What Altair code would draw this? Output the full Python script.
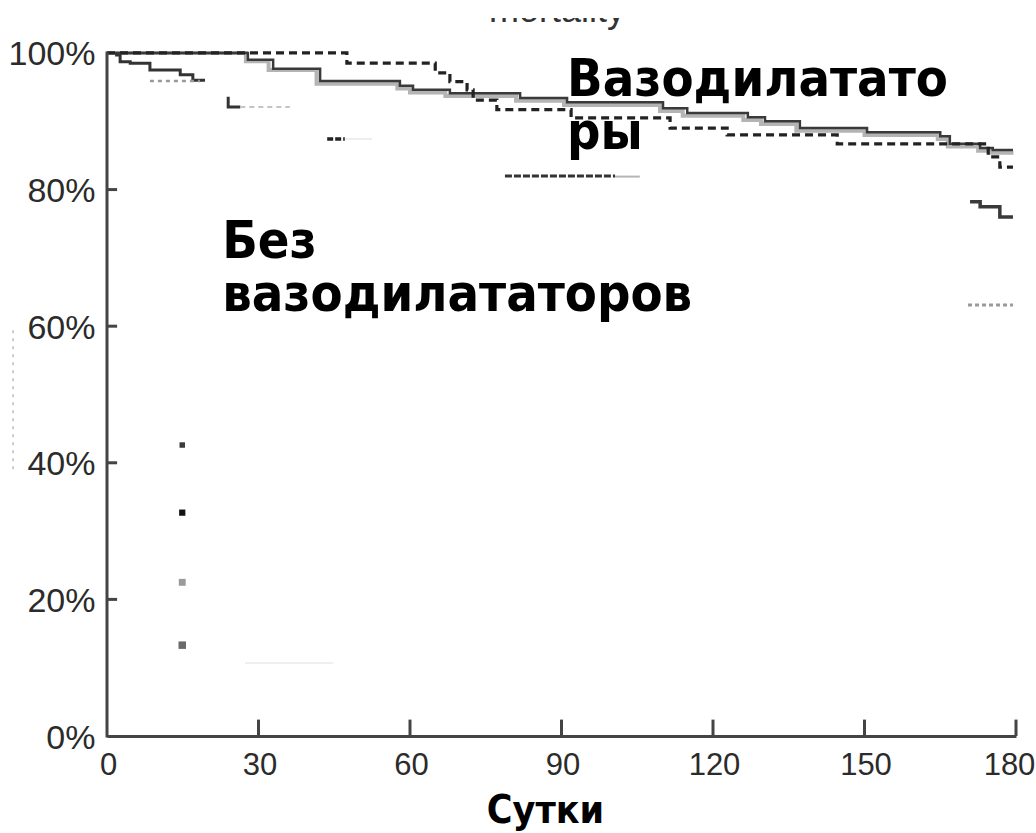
import altair as alt
import pandas as pd

# ---- survival curves: day of follow-up vs. share of patients alive (%) ----
# dashed curve
dash_days = [0, 47.5, 65.0, 67.9, 71.3, 72.5, 77.2, 91.9, 111.5, 122.8, 144.6, 174.5, 176.8, 179.4]
dash_pct = [100, 98.5, 97.1, 95.8, 94.6, 93.1, 91.7, 90.5, 89.0, 88.0, 86.7, 84.8, 83.3, 83.3]

# dark solid curve
solid_days = [0, 27.9, 32.9, 42.2, 58.0, 60.6, 67.9, 81.8, 91.1, 110.1, 114.9, 126.9, 130.3,
              137.2, 150.5, 165.0, 166.9, 172.9, 175.4, 179.4]
solid_pct = [100, 99.0, 97.7, 95.9, 95.2, 94.6, 94.1, 93.4, 92.8, 91.9, 91.2, 90.6, 90.0,
             89.0, 88.4, 87.8, 86.7, 86.1, 85.8, 85.8]

# grey solid curve
grey_days = [0, 27.5, 32.0, 41.5, 57.5, 60.0, 67.0, 81.0, 90.5, 109.5, 114.0, 126.0, 129.5,
             136.5, 150.0, 164.5, 166.5, 172.5, 175.0, 179.5]
grey_pct = [100, 98.8, 97.5, 95.5, 94.8, 94.2, 93.7, 93.0, 92.4, 91.5, 90.8, 90.2, 89.6,
            88.6, 88.0, 87.4, 86.3, 85.7, 85.4, 85.4]

# early steps of the group without vasodilators
early_days = [1.6, 2.6, 4.6, 8.5, 14.5, 17.0, 19.4]
early_pct = [99.7, 98.7, 98.5, 97.5, 96.8, 96.0, 96.0]
early_dot_days = [8.5, 18.4]
early_dot_pct = [95.9, 95.9]

# remaining pieces of the lower curve
frag_a_days = [24.0, 24.0, 26.4]
frag_a_pct = [93.6, 92.1, 92.1]
frag_b_days = [26.4, 36.2]
frag_b_pct = [92.1, 92.1]
frag_c_days = [43.6, 47.1]
frag_c_pct = [87.4, 87.4]
frag_d_days = [47.1, 52.5]
frag_d_pct = [87.4, 87.4]
frag_e_days = [78.8, 100.6]
frag_e_pct = [82.0, 82.0]
frag_f_days = [100.6, 105.5]
frag_f_pct = [81.9, 81.9]
frag_g_days = [170.9, 172.9, 176.8, 179.4]
frag_g_pct = [78.2, 77.5, 76.0, 76.0]
frag_h_days = [170.5, 179.4]
frag_h_pct = [63.1, 63.1]

# isolated censor marks
mark_days = [14.9, 14.9, 14.9, 14.9]
mark_pct = [42.6, 32.7, 22.5, 13.3]
mark_ids = ["m1", "m2", "m3", "m4"]
mark_colors = ["#3c3c3c", "#111111", "#9a9a9a", "#6a6a6a"]
mark_sizes = [30, 56, 9, 30]

# axes
x_ticks = [0, 30, 60, 90, 120, 150, 180]
y_ticks = [0, 20, 40, 60, 80, 100]
y_top = 105.12  # scale runs a little past 100% so the heading rim sits inside the view

LABEL_FONT = "Liberation Sans, Arial"
BOLD_FONT = "DejaVu Sans Condensed, DejaVu Sans"
AXIS_COLOR = "#444444"

x_axis = alt.Axis(
    values=x_ticks, ticks=False, tickSize=0, grid=False,
    domainColor=AXIS_COLOR, domainWidth=3,
    labelFont=LABEL_FONT, labelFontSize=31, labelColor="#2b2b2b",
    labelPadding=14, labelFlush=False, labelOverlap=False,
    labelOffset={"condition": {"test": "datum.value == 180", "value": -7}, "value": 1},
    title="Сутки", titleFont=BOLD_FONT, titleFontSize=39, titleFontWeight="bold",
    titleColor="#000000", titleX=438, titleY=86, titleAlign="center",
    titleBaseline="alphabetic",
)
y_axis = alt.Axis(
    values=y_ticks, labelExpr="datum.value + '%'", ticks=False, tickSize=0, grid=False,
    domain=False,
    labelFont=LABEL_FONT, labelFontSize=34, labelColor="#2b2b2b",
    labelPadding=12, labelFlush=False, labelOverlap=False, labelBaseline="middle",
    labelOffset=2, title=None,
)

X = alt.X("day:Q", scale=alt.Scale(domain=[0, 180], nice=False, zero=False), axis=x_axis)
Y = alt.Y("pct:Q", scale=alt.Scale(domain=[0, y_top], nice=False), axis=y_axis)


def frame(days, pcts):
    return pd.DataFrame({"day": days, "pct": pcts, "i": list(range(len(days)))})


def steps(days, pcts, color, width, dash=None):
    style = dict(interpolate="step-after", color=color, strokeWidth=width, strokeCap="butt")
    if dash:
        style["strokeDash"] = dash
    return alt.Chart(frame(days, pcts)).mark_line(**style).encode(x=X, y=Y, order="i:Q")


layers = [
    steps(grey_days, grey_pct, "#b4b4b4", 4),
    steps(solid_days, solid_pct, "#3a3a3a", 2.5),
    steps(dash_days, dash_pct, "#222222", 3.2, [8, 5]),
    steps(early_days, early_pct, "#333333", 3),
    steps(early_dot_days, early_dot_pct, "#9a9a9a", 2.5, [4, 4]),
    steps(frag_a_days, frag_a_pct, "#333333", 3),
    steps(frag_b_days, frag_b_pct, "#c4c4c4", 2, [5, 4]),
    steps(frag_c_days, frag_c_pct, "#222222", 3.5, [6, 2]),
    steps(frag_d_days, frag_d_pct, "#eeeeee", 2),
    steps(frag_e_days, frag_e_pct, "#333333", 3, [7, 2]),
    steps(frag_f_days, frag_f_pct, "#b5b5b5", 2),
    steps(frag_g_days, frag_g_pct, "#3a3a3a", 3.5),
    steps(frag_h_days, frag_h_pct, "#9a9a9a", 3, [4, 3]),
]

marks_df = pd.DataFrame({"day": mark_days, "pct": mark_pct, "id": mark_ids})
layers.append(
    alt.Chart(marks_df).mark_square(opacity=1).encode(
        x=X, y=Y,
        color=alt.Color("id:N", scale=alt.Scale(domain=mark_ids, range=mark_colors), legend=None),
        size=alt.Size("id:N", scale=alt.Scale(domain=mark_ids, range=mark_sizes), legend=None),
    )
)

# vertical axis line, 0% to 100%
y_line = pd.DataFrame({"day": [0], "pct": [0], "pct2": [100]})
layers.append(alt.Chart(y_line).mark_rule(color=AXIS_COLOR, strokeWidth=3, strokeCap="square").encode(
    x=X, y=Y, y2="pct2:Q"))

# inward tick marks
ytick_df = pd.DataFrame({"pct": [20, 40, 60, 80], "day": [0] * 4, "day2": [2.0] * 4})
xtick_df = pd.DataFrame({"day": [30, 60, 90, 120, 150, 180], "pct": [0] * 6, "pct2": [2.4] * 6})
layers.append(alt.Chart(ytick_df).mark_rule(color=AXIS_COLOR, strokeWidth=3).encode(x=X, x2="day2:Q", y=Y))
layers.append(alt.Chart(xtick_df).mark_rule(color=AXIS_COLOR, strokeWidth=3).encode(x=X, y=Y, y2="pct2:Q"))

# faint leftovers: dotted stroke left of the axis and a pale line near the bottom
left_dots = pd.DataFrame({"day": [-18.6], "pct": [59.4], "pct2": [38.9]})
layers.append(alt.Chart(left_dots).mark_rule(color="#cccccc", strokeWidth=2, strokeDash=[3, 5]).encode(
    x=X, y=Y, y2="pct2:Q"))
pale = pd.DataFrame({"day": [27.3], "day2": [44.8], "pct": [10.7]})
layers.append(alt.Chart(pale).mark_rule(color="#efefef", strokeWidth=2).encode(x=X, x2="day2:Q", y=Y))

# group labels
vaso_label = pd.DataFrame({"day": [91.1], "pct": [93.7]})
novaso_label = pd.DataFrame({"day": [22.8], "pct": [70.0]})
label_style = dict(font=BOLD_FONT, fontSize=52, fontWeight="bold", color="#000000",
                   align="left", baseline="alphabetic", lineHeight=53)
layers.append(alt.Chart(vaso_label).mark_text(text=["Вазодилатато", "ры"], **label_style).encode(x=X, y=Y))
layers.append(alt.Chart(novaso_label).mark_text(text=["Без", "вазодилататоров"], **label_style).encode(x=X, y=Y))

# heading cut by the top edge of the view: only the lower rim of the glyphs shows
heading = pd.DataFrame({"day": [89.1], "pct": [104.5]})
layers.append(alt.Chart(heading).mark_text(text="mortality", font="Liberation Sans", fontSize=36,
                                           color="#333333", align="center", baseline="alphabetic",
                                           clip=True).encode(x=X, y=Y))

chart = alt.layer(*layers).properties(
    width=909, height=718,
    padding={"left": 107, "top": 18, "right": 20, "bottom": 97},
    autosize=alt.AutoSizeParams(type="none"),
    background="#ffffff",
).configure_view(strokeWidth=0)

chart.save("out.html", embed_options={"renderer": "svg", "actions": False})
